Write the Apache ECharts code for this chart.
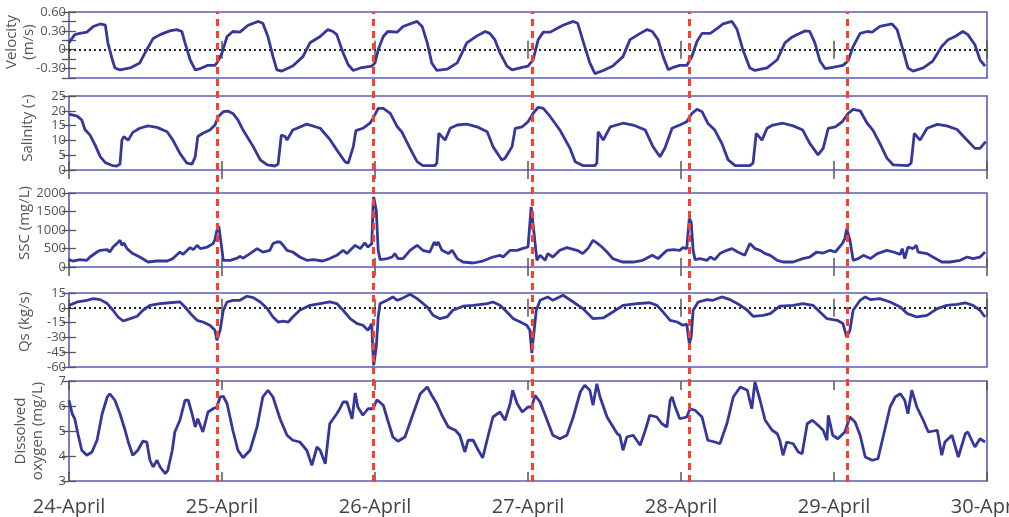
<!DOCTYPE html>
<html><head><meta charset="utf-8">
<script src="https://cdn.jsdelivr.net/npm/echarts/dist/echarts.min.js"></script>
<style>html,body{margin:0;padding:0;background:#fff}#c{width:1009px;height:517px}</style>
</head><body><div id="c"></div>
<script>
// ---------- DATA (hours since 24-April 00:00, value) ----------
const dayLabels = ['24-April','25-April','26-April','27-April','28-April','29-April','30-April'];
const redLineHours = [23.2, 47.8, 72.6, 97.3, 122.0];

const velTicks = [-0.30, 0, 0.30, 0.60];
const velTickText = ['-0.30', '0', '0.30', '0.60'];

const velocity = [[0,0.11],[0.9,0.24],[1.7,0.26],[2.8,0.28],[3.8,0.37],[4.9,0.41],[5.7,0.39],[6.1,0.11],[6.8,-0.16],[7.2,-0.29],[8.0,-0.32],[9.6,-0.29],[11.1,-0.21],[12.2,0],[13.2,0.18],[14.3,0.24],[15.8,0.30],[16.9,0.32],[17.7,0.29],[18.2,0.11],[19.0,-0.16],[19.8,-0.32],[20.6,-0.30],[21.7,-0.25],[22.9,-0.25],[23.4,-0.18],[24.0,-0.05],[24.8,0.21],[25.7,0.29],[26.8,0.28],[28.1,0.39],[29.7,0.45],[30.4,0.42],[31.2,0.21],[32.0,-0.11],[32.6,-0.32],[33.4,-0.34],[35.1,-0.26],[36.7,-0.11],[37.8,0.11],[39.4,0.21],[40.6,0.32],[41.4,0.29],[42.0,0.24],[43.0,-0.05],[43.8,-0.24],[44.6,-0.33],[45.7,-0.29],[47.5,-0.26],[48.0,-0.21],[48.5,0],[49.3,0.21],[50.0,0.29],[51.5,0.28],[52.4,0.37],[54.6,0.45],[55.4,0.37],[56.2,0.11],[56.9,-0.21],[57.7,-0.33],[59.3,-0.31],[60.9,-0.21],[62.4,0.11],[64.0,0.22],[65.3,0.29],[66.0,0.26],[66.8,0.16],[67.6,-0.05],[68.7,-0.26],[69.5,-0.32],[71.1,-0.28],[72.0,-0.26],[72.8,-0.16],[73.6,0.16],[74.4,0.28],[75.5,0.28],[76.6,0.34],[77.5,0.39],[79.1,0.45],[79.8,0.42],[80.9,0.05],[81.7,-0.21],[82.5,-0.38],[83.8,-0.33],[85.3,-0.26],[86.9,-0.11],[88.0,0.16],[89.6,0.26],[90.7,0.32],[91.5,0.29],[92.4,0.16],[93.2,-0.11],[94.0,-0.32],[94.8,-0.28],[95.8,-0.25],[96.9,-0.25],[97.7,-0.11],[98.5,0.13],[99.3,0.26],[100.6,0.26],[101.7,0.34],[102.6,0.41],[104.0,0.45],[104.8,0.32],[105.7,0],[106.8,-0.29],[107.6,-0.33],[109.5,-0.29],[111.1,-0.16],[112.3,0.11],[113.4,0.20],[114.4,0.25],[115.5,0.30],[116.2,0.29],[117.0,0.11],[117.8,-0.18],[118.6,-0.30],[119.8,-0.28],[121.4,-0.25],[122.2,-0.18],[123.0,0.05],[124.1,0.26],[125.2,0.29],[126.0,0.28],[127.2,0.37],[129.1,0.41],[129.9,0.32],[130.8,0],[131.6,-0.29],[132.4,-0.34],[134.0,-0.29],[135.5,-0.18],[136.9,0.05],[137.9,0.16],[139.0,0.21],[140.2,0.29],[141.0,0.24],[142.1,0.08],[142.9,-0.16],[143.7,-0.26]];

const salinity = [[0,18.9],[1.3,18.2],[2.0,16.9],[2.5,13.7],[3.3,11.8],[4.1,8.4],[4.9,4.5],[5.7,2.5],[6.8,1.5],[7.5,1.35],[8.0,2.0],[8.3,10.1],[8.6,11.3],[9.3,10.1],[10.0,12.7],[11.1,14.1],[12.4,14.9],[13.8,14.4],[15.4,12.9],[16.3,10.1],[17.4,5.6],[18.5,2.3],[19.3,2.0],[19.8,4.5],[20.2,11.3],[21.0,12.4],[22.1,13.5],[22.9,15.2],[23.4,18.0],[24.2,19.7],[24.9,19.9],[25.7,19.1],[26.5,16.9],[27.3,13.5],[28.9,7.9],[30.0,3.4],[31.1,1.7],[32.3,1.35],[32.8,2.0],[33.3,11.8],[33.9,11.3],[34.2,10.1],[35.1,13.5],[37.3,15.5],[39.4,14.1],[40.9,10.4],[42.0,6.8],[43.3,2.8],[43.8,2.3],[44.6,7.9],[45.0,13.3],[46.1,14.1],[47.2,15.8],[47.7,17.5],[48.5,20.8],[49.3,20.8],[50.4,19.1],[51.5,14.6],[52.2,12.9],[53.5,7.3],[54.6,2.8],[55.5,1.5],[57.4,1.5],[57.7,2.3],[58.0,12.4],[59.0,10.1],[59.8,14.1],[60.9,15.2],[62.4,15.5],[64.0,14.6],[65.6,12.9],[66.5,7.9],[67.9,3.4],[68.4,4.0],[69.5,7.9],[70.0,14.1],[71.1,14.6],[72.0,16.3],[72.8,19.1],[73.6,21.2],[74.4,20.8],[75.5,18.0],[77.0,13.5],[78.6,7.3],[79.4,2.8],[80.6,1.5],[82.5,1.5],[82.8,2.3],[83.0,12.9],[83.8,10.1],[84.9,14.6],[86.9,15.8],[88.5,15.2],[90.4,13.5],[91.6,7.9],[92.7,4.5],[93.5,7.5],[94.6,14.1],[95.8,15.2],[96.9,16.3],[97.7,19.1],[98.5,20.5],[99.3,19.7],[100.2,15.8],[101.3,13.5],[102.4,9.0],[103.4,3.4],[104.5,1.5],[106.8,1.5],[107.3,2.3],[107.8,12.4],[108.7,10.1],[109.5,14.1],[110.4,15.2],[112.0,15.8],[113.6,14.9],[115.1,13.5],[116.2,9.0],[117.5,5.1],[118.3,7.3],[119.1,14.1],[120.2,14.6],[121.3,16.3],[122.2,19.1],[123.0,20.5],[124.1,20.0],[125.2,15.8],[126.1,13.5],[127.2,9.0],[128.3,4.0],[129.3,1.7],[131.6,1.5],[132.1,2.3],[132.6,12.4],[133.5,10.1],[134.6,14.1],[136.2,15.4],[137.7,14.9],[139.3,13.7],[140.6,10.7],[142.1,7.3],[142.9,7.3],[143.8,9.6]];

const ssc = [[0,200],[0.6,162],[1.7,200],[2.8,181],[3.3,270],[4.4,405],[4.9,451],[6.0,470],[6.4,405],[6.9,540],[7.5,632],[8.0,721],[8.3,586],[8.6,650],[9.1,497],[10.0,362],[11.1,270],[12.4,135],[13.8,162],[15.4,162],[16.3,227],[17.4,405],[17.9,343],[19.0,524],[19.5,470],[20.1,586],[20.6,497],[21.7,540],[22.6,632],[22.9,740],[23.2,992],[23.5,1100],[23.8,721],[24.2,181],[24.5,227],[25.3,181],[26.4,240],[26.8,289],[27.3,240],[28.4,362],[29.5,497],[30.4,405],[31.5,451],[32.0,632],[32.6,676],[33.1,676],[33.6,586],[34.2,451],[35.1,405],[36.2,270],[37.3,181],[38.3,200],[39.8,162],[40.9,227],[42.0,316],[43.0,451],[43.6,362],[44.1,451],[44.9,586],[45.7,497],[46.4,650],[46.9,540],[47.5,632],[47.7,1713],[47.8,1892],[48.2,1532],[48.5,451],[48.8,200],[49.9,227],[50.7,270],[51.1,362],[51.6,227],[52.4,227],[53.5,451],[54.6,586],[55.5,451],[56.6,405],[57.3,676],[57.6,586],[57.9,676],[58.5,451],[59.5,362],[60.1,451],[60.9,227],[61.8,135],[63.4,108],[64.9,162],[66.5,270],[67.6,316],[68.1,270],[69.2,451],[70.3,451],[71.1,497],[72.0,540],[72.5,1622],[72.6,1668],[72.9,992],[73.4,181],[73.9,316],[74.7,181],[75.1,362],[75.9,270],[77.0,451],[78.1,524],[79.7,451],[80.6,362],[81.4,497],[82.2,721],[82.8,650],[83.6,540],[84.4,405],[85.3,227],[86.8,135],[88.5,135],[90.0,181],[91.5,316],[92.4,227],[93.8,451],[94.8,470],[95.8,451],[96.3,524],[96.9,497],[97.3,1308],[97.6,1216],[97.9,451],[98.2,200],[99.0,227],[100.1,181],[100.6,270],[101.3,200],[102.1,362],[103.2,451],[104.0,497],[104.9,405],[106.0,316],[106.8,632],[107.6,497],[108.4,451],[109.2,362],[110.0,316],[111.1,181],[112.0,135],[113.6,135],[115.1,227],[116.2,270],[117.3,405],[118.3,378],[119.4,451],[120.2,405],[121.3,632],[121.7,767],[122.0,1038],[122.2,1081],[122.5,721],[123.0,181],[123.8,227],[124.6,316],[125.7,227],[126.8,362],[128.3,451],[129.3,405],[130.4,343],[130.7,497],[131.1,227],[131.6,540],[132.4,497],[132.9,586],[133.2,405],[134.6,362],[135.5,270],[136.9,135],[138.2,135],[139.8,181],[140.9,270],[141.8,227],[142.9,270],[143.7,405]];

const qs = [[0,2.5],[1.3,5.9],[2.8,7.6],[3.8,9.3],[4.9,8.3],[6.0,4.3],[6.9,-2.5],[7.7,-9.3],[8.5,-13.4],[9.6,-11],[10.7,-8.6],[11.6,-2.5],[12.7,2.5],[14.3,4.3],[15.8,5.1],[17.4,5.9],[18.2,0.8],[19.3,-7.6],[20.1,-12.7],[21.0,-14.4],[22.1,-17.7],[22.9,-22.8],[23.2,-33],[23.4,-34.7],[23.7,-22.8],[24.2,-2.5],[24.8,5.9],[25.7,7.6],[26.8,7.6],[27.9,11.7],[28.9,10.3],[30.0,5.9],[31.1,-0.8],[32.0,-9.3],[32.8,-14.4],[33.6,-13.4],[34.4,-14.4],[35.1,-9.3],[36.2,-2.5],[37.8,2.5],[39.4,4.3],[40.9,5.9],[42.0,4.3],[43.0,-2.5],[44.1,-11],[45.2,-16],[46.1,-17.7],[46.9,-22.8],[47.5,-16],[47.7,-49.9],[47.8,-58.3],[48.2,-39.7],[48.5,-9.3],[48.8,4.3],[49.9,7.6],[50.8,11],[51.5,7.6],[52.2,9.3],[53.5,13.7],[54.6,9.3],[56.2,0.8],[57.1,-7.6],[58.2,-11],[59.3,-9.3],[60.2,-2.5],[61.8,1.6],[63.4,2.5],[65.6,4.3],[66.5,5.9],[67.6,2.5],[68.7,-4.3],[69.7,-11],[70.8,-14.4],[71.8,-17.7],[72.0,-16.5],[72.3,-22.8],[72.6,-46],[72.8,-33],[73.3,-2.5],[73.9,7.6],[75.1,11],[75.9,7.6],[77.5,12.7],[79.1,5.9],[80.6,-0.8],[82.2,-11],[83.8,-10.3],[85.3,-4.3],[86.9,2.5],[89.1,4.3],[91.1,5.1],[92.2,2.5],[93.2,-4.3],[94.3,-12.7],[95.4,-14.4],[96.3,-17.7],[96.9,-16.5],[97.3,-36.3],[97.6,-29.6],[97.9,-2.5],[98.7,5.9],[100.1,8.3],[101.0,7.6],[102.4,11],[103.7,8.3],[105.3,2.5],[106.4,-2.5],[107.3,-8.6],[108.9,-7.6],[110.0,-5.9],[111.5,1.6],[113.6,2.5],[115.1,4.3],[116.7,2.5],[117.8,-4.3],[118.9,-11],[120.5,-12.7],[121.4,-16],[122.0,-29.6],[122.2,-31.3],[122.5,-22.8],[123.0,-2.5],[124.1,7.6],[124.9,11],[125.7,8.3],[127.2,9.3],[128.8,5.9],[130.4,0.8],[131.5,-5.9],[133.0,-9.3],[134.6,-7.6],[136.2,-0.8],[137.7,2.5],[139.3,3.4],[140.6,5.1],[141.8,2.5],[142.9,-2.5],[143.7,-9.3]];

const dissolvedOxygen = [[0,6.23],[0.5,5.69],[0.9,5.49],[1.4,4.89],[2.0,4.23],[2.8,4.03],[3.6,4.16],[4.4,4.63],[5.2,5.69],[6.0,6.36],[6.4,6.49],[7.2,6.23],[8.0,5.69],[8.8,5.03],[9.3,4.56],[10.0,4.03],[10.8,4.23],[11.6,4.6],[12.2,4.56],[12.7,3.83],[13.2,3.56],[13.8,3.83],[14.3,3.56],[15.1,3.29],[15.5,3.43],[16.2,4.23],[16.6,4.96],[17.4,5.43],[18.2,6.23],[18.7,6.23],[19.3,5.69],[19.8,5.16],[20.2,5.49],[21.0,4.96],[21.8,5.76],[22.6,5.89],[23.2,5.96],[23.7,6.36],[24.2,6.39],[24.8,6.09],[25.7,5.03],[26.5,4.23],[27.3,3.93],[28.4,4.23],[29.5,5.16],[30.4,6.36],[31.2,6.63],[32.0,6.36],[33.1,5.49],[34.2,4.83],[35.1,4.63],[36.2,4.56],[37.3,4.23],[38.1,3.63],[38.9,4.36],[39.4,4.23],[40.2,3.69],[40.9,5.29],[42.0,5.69],[42.5,5.9],[43.0,6.16],[43.6,6.16],[44.4,5.49],[44.9,6.52],[45.3,5.96],[46.1,5.63],[46.9,5.89],[47.7,5.89],[48.3,6.25],[49.3,6.03],[50.0,5.43],[50.8,4.76],[51.6,4.59],[52.7,4.76],[53.8,5.56],[55.1,6.49],[56.2,6.76],[56.9,6.43],[57.7,6.09],[58.5,5.63],[59.5,5.16],[60.6,5.03],[61.3,4.83],[62.1,4.16],[62.6,4.63],[63.4,4.63],[64.2,4.23],[64.9,3.93],[65.7,4.76],[66.5,5.56],[67.6,5.76],[68.4,5.43],[69.2,6.09],[69.6,6.63],[70.3,6.09],[71.1,5.76],[72.0,5.96],[72.6,5.96],[73.1,6.43],[73.9,6.16],[75.0,5.43],[75.9,4.83],[77.0,4.69],[78.1,4.83],[79.1,5.56],[80.2,6.56],[80.9,6.83],[81.7,6.63],[82.2,6.03],[82.8,6.89],[83.3,6.36],[84.4,5.56],[86.0,4.89],[86.4,4.83],[86.9,4.23],[87.5,4.76],[88.5,4.83],[89.6,4.43],[90.4,5.03],[91.1,5.63],[92.2,5.56],[93.0,5.29],[93.8,5.16],[94.3,6.23],[94.6,6.36],[95.1,5.96],[95.8,5.49],[96.9,5.56],[97.4,5.89],[98.2,5.83],[99.3,5.56],[100.2,4.63],[101.3,4.56],[102.1,4.49],[103.2,5.29],[104.2,6.36],[105.3,6.76],[106.4,6.63],[107.1,5.89],[107.6,6.96],[108.4,6.23],[109.2,5.43],[110.3,5.03],[111.1,4.89],[111.5,4.63],[112.0,4.03],[112.6,4.56],[113.6,4.49],[114.4,4.16],[115.0,4.09],[115.8,5.29],[116.6,5.43],[117.5,5.23],[118.3,5.03],[118.9,4.63],[119.1,5.63],[119.8,4.83],[120.6,4.69],[121.7,4.96],[122.5,5.56],[123.3,5.36],[124.1,4.83],[124.9,3.96],[126.0,3.83],[126.9,3.89],[127.7,4.76],[128.8,5.96],[129.6,6.36],[130.4,6.49],[131.1,6.23],[131.6,5.69],[132.2,6.63],[133.0,5.96],[134.0,5.43],[134.8,4.96],[136.2,5.03],[136.9,4.03],[137.4,4.56],[138.5,4.83],[139.5,3.96],[140.6,4.89],[141.0,4.96],[142.1,4.36],[142.9,4.69],[143.7,4.56]];

// ---------- LAYOUT / STYLE ----------
const FONT = "'Open Sans', sans-serif";
const LINE_COLOR = '#35379a';
const BORDER_COLOR = '#5d5db3';
const TEXT_COLOR = '#555';
const TICK_COLOR = '#555';

const panels = [
  {data: velocity, top: 12, height: 66, min: -0.45, max: 0.6, interval: 0.15,
   name: 'Velocity\n(m/s)', nameGap: 32, namePad: 6, zero: true,
   fmt: v => { const i = velTicks.findIndex(t => Math.abs(t - v) < 1e-6); return i >= 0 ? velTickText[i] : ''; }},
  {data: salinity, top: 96, height: 74, min: 0, max: 25, interval: 5,
   name: 'Salinity (-)', nameGap: 33, namePad: 10, fmt: v => String(v)},
  {data: ssc, top: 193, height: 74, min: 0, max: 2000, interval: 500,
   name: 'SSC (mg/L)', nameGap: 36, namePad: 14, fmt: v => String(v)},
  {data: qs, top: 293, height: 74, min: -60, max: 15, interval: 15,
   name: 'Qs (kg/s)', nameGap: 36, namePad: 16, zero: true, fmt: v => String(v)},
  {data: dissolvedOxygen, top: 381, height: 100, min: 3, max: 7, interval: 1,
   name: 'Dissolved\noxygen (mg/L)', nameGap: 23, namePad: 0, fmt: v => String(v)}
];

const grid = [], xAxis = [], yAxis = [], series = [];
panels.forEach((p, i) => {
  grid.push({left: 69, right: 22, top: p.top, height: p.height, show: true, containLabel: false,
             outerBoundsMode: 'none',
             borderColor: BORDER_COLOR, borderWidth: 1.6, backgroundColor: 'transparent'});
  const isLast = i === panels.length - 1;
  const xBase = {type: 'value', gridIndex: i, min: 0, max: 144, interval: 24,
    axisLine: {show: false}, splitLine: {show: false},
    axisTick: {show: true, inside: true, length: 9, lineStyle: {color: TICK_COLOR, width: 1.5}}};
  xAxis.push(Object.assign({}, xBase, {position: 'bottom',
    axisLabel: isLast ? {show: true, margin: 16, fontSize: 20, color: '#444', fontFamily: FONT,
      showMinLabel: true, showMaxLabel: true, hideOverlap: false,
      formatter: v => dayLabels[Math.round(v / 24)]} : {show: false}}));
  xAxis.push(Object.assign({}, xBase, {position: 'top', axisLabel: {show: false}}));
  const yBase = {type: 'value', gridIndex: i, min: p.min, max: p.max, interval: p.interval,
    axisLine: {show: false}, splitLine: {show: false},
    axisTick: {show: true, inside: true, length: 7, lineStyle: {color: TICK_COLOR, width: 1.3}}};
  yAxis.push(Object.assign({}, yBase, {position: 'left',
    name: p.name, nameLocation: 'middle', nameRotate: 90, nameGap: p.nameGap,
    nameMoveOverlap: false,
    nameTextStyle: {fontSize: 15, color: TEXT_COLOR, fontFamily: FONT, lineHeight: 17,
      padding: [0, 0, 0, p.namePad]},
    axisLabel: {show: true, margin: 3, fontSize: 13, color: TEXT_COLOR, fontFamily: FONT,
      showMinLabel: true, showMaxLabel: true, formatter: p.fmt}}));
  yAxis.push(Object.assign({}, yBase, {position: 'right', axisLabel: {show: false}}));
  const s = {type: 'line', xAxisIndex: 2 * i, yAxisIndex: 2 * i, data: p.data,
    showSymbol: false, symbol: 'none', smooth: false, silent: true, z: 3,
    lineStyle: {color: LINE_COLOR, width: 2.8}};
  if (p.zero) {
    s.markLine = {silent: true, symbol: 'none', label: {show: false}, z: 2,
      lineStyle: {color: '#222', type: [2, 3], width: 2},
      data: [{yAxis: 0}]};
  }
  series.push(s);
});

// overlay grid spanning all panels for the red dashed event lines
grid.push({left: 69, right: 22, top: 12, height: 470, show: false, containLabel: false, outerBoundsMode: 'none'});
xAxis.push({type: 'value', gridIndex: 5, min: 0, max: 144, show: false});
yAxis.push({type: 'value', gridIndex: 5, min: 0, max: 1, show: false});
series.push({type: 'line', xAxisIndex: 10, yAxisIndex: 10, data: [[0, 0], [144, 0]],
  symbol: 'none', lineStyle: {opacity: 0}, silent: true, z: 10,
  markLine: {silent: true, symbol: 'none', label: {show: false},
    lineStyle: {color: '#ff3d2e', type: [7, 5], width: 3},
    data: redLineHours.map(h => ({xAxis: h}))}});

const chart = echarts.init(document.getElementById('c'), null, {renderer: 'canvas'});
chart.setOption({animation: false, backgroundColor: '#fff', grid, xAxis, yAxis, series});
</script></body></html>
